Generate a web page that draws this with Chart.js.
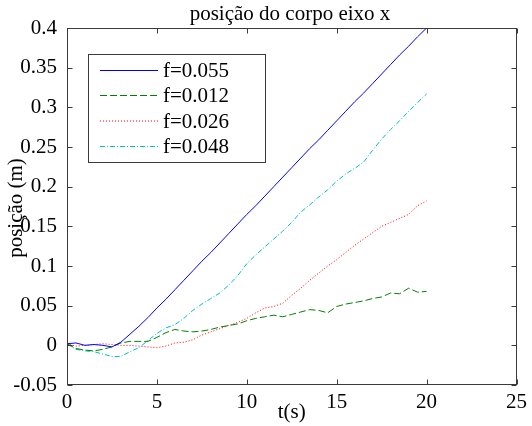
<!DOCTYPE html>
<html>
<head>
<meta charset="utf-8">
<script src="https://cdn.jsdelivr.net/npm/chart.js@4/dist/chart.umd.min.js"></script>
<style>
  html, body { margin: 0; padding: 0; background: #ffffff; }
  #wrap { width: 532px; height: 426px; }
</style>
</head>
<body>
<div id="wrap"><canvas id="c" width="532" height="426"></canvas></div>
<script>
// Time samples (s)
const timeS = [0, 0.5, 1, 1.5, 2, 2.5, 3, 3.5, 4, 4.5, 5, 5.5, 6, 6.5, 7, 7.5, 8, 8.5, 9, 9.5,
               10, 10.5, 11, 11.5, 12, 12.5, 13, 13.5, 14, 14.5, 15, 15.5, 16, 16.5, 17, 17.5,
               18, 18.5, 19, 19.5, 20];

// Body position along x (m) for each friction coefficient
const posF055 = [0.002, 0.003, 0.000, 0.001, 0.000, -0.002, 0.004, 0.014, 0.024, 0.035, 0.047,
                 0.058, 0.070, 0.082, 0.094, 0.106, 0.117, 0.129, 0.141, 0.153, 0.165, 0.176,
                 0.188, 0.200, 0.212, 0.224, 0.236, 0.248, 0.259, 0.271, 0.283, 0.295, 0.307,
                 0.318, 0.330, 0.342, 0.354, 0.366, 0.377, 0.389, 0.400];
const posF012 = [0.002, -0.004, -0.006, -0.007, -0.005, -0.002, 0.003, 0.005, 0.005, 0.005, 0.010,
                 0.016, 0.020, 0.018, 0.017, 0.018, 0.020, 0.023, 0.025, 0.027, 0.031, 0.034,
                 0.036, 0.038, 0.036, 0.039, 0.042, 0.045, 0.044, 0.041, 0.049, 0.052, 0.054,
                 0.056, 0.059, 0.061, 0.066, 0.065, 0.072, 0.067, 0.068];
const posF026 = [0.002, -0.001, 0.000, 0.001, 0.002, 0.001, 0.000, 0.000, -0.001, -0.002, -0.003,
                 -0.001, 0.003, 0.004, 0.007, 0.013, 0.017, 0.021, 0.025, 0.029, 0.034, 0.041,
                 0.047, 0.049, 0.053, 0.063, 0.072, 0.082, 0.091, 0.100, 0.108, 0.117, 0.126,
                 0.134, 0.142, 0.150, 0.155, 0.160, 0.165, 0.176, 0.182];
const posF048 = [0.002, -0.005, -0.007, -0.008, -0.011, -0.014, -0.014, -0.008, -0.003, 0.006, 0.015,
                 0.022, 0.026, 0.034, 0.044, 0.052, 0.059, 0.066, 0.076, 0.088, 0.103, 0.114,
                 0.124, 0.134, 0.144, 0.155, 0.168, 0.177, 0.187, 0.196, 0.207, 0.216, 0.223,
                 0.231, 0.246, 0.260, 0.272, 0.283, 0.295, 0.306, 0.317];

const seriesLabels = ['f=0.055', 'f=0.012', 'f=0.026', 'f=0.048'];

// Axis ticks
const xTickValues = [0, 5, 10, 15, 20, 25];
const xTickLabels = ['0', '5', '10', '15', '20', '25'];
const yTickValues = [-0.05, 0, 0.05, 0.1, 0.15, 0.2, 0.25, 0.3, 0.35, 0.4];
const yTickLabels = ['-0.05', '0', '0.05', '0.1', '0.15', '0.2', '0.25', '0.3', '0.35', '0.4'];

const FONT = 'Liberation Serif, Times New Roman, serif';
const FRAME = '#3a3a3a';

function toPoints(values) {
  return timeS.map((t, i) => ({ x: t, y: values[i] }));
}

const styles = [
  { color: '#0000ff', dash: [] },
  { color: '#008000', dash: [7, 3] },
  { color: '#ff0000', dash: [1, 2] },
  { color: '#00bfbf', dash: [5, 2, 1, 2] }
];
const seriesValues = [posF055, posF012, posF026, posF048];

// Frame with inward ticks on all four sides, titles and the boxed legend
const matlabLook = {
  id: 'matlabLook',
  afterDraw(chart) {
    const ctx = chart.ctx;
    const a = chart.chartArea;
    const xs = chart.scales.x, ys = chart.scales.y;
    ctx.save();
    ctx.strokeStyle = FRAME;
    ctx.lineWidth = 1;
    ctx.setLineDash([]);
    const L = Math.round(a.left) + 0.5, R = Math.round(a.right) - 0.5;
    const T = Math.round(a.top) + 0.5, B = Math.round(a.bottom) - 0.5;
    ctx.strokeRect(L, T, R - L, B - T);
    const tl = 5;
    ctx.beginPath();
    xTickValues.forEach(v => {
      const px = Math.round(xs.getPixelForValue(v)) + 0.5;
      ctx.moveTo(px, B); ctx.lineTo(px, B - tl);
      ctx.moveTo(px, T); ctx.lineTo(px, T + tl);
    });
    yTickValues.forEach(v => {
      const py = Math.round(ys.getPixelForValue(v)) + 0.5;
      ctx.moveTo(L, py); ctx.lineTo(L + tl, py);
      ctx.moveTo(R, py); ctx.lineTo(R - tl, py);
    });
    ctx.stroke();

    // Titles
    ctx.fillStyle = '#000';
    ctx.font = '21px ' + FONT;
    ctx.textAlign = 'center';
    ctx.textBaseline = 'alphabetic';
    ctx.fillText('posição do corpo eixo x', 290, 20);
    ctx.fillText('t(s)', (a.left + a.right) / 2, 418);
    ctx.save();
    ctx.translate(22, 208);
    ctx.rotate(-Math.PI / 2);
    ctx.fillText('posição (m)', 0, 0);
    ctx.restore();

    // Legend
    const bx = 88.5, by = 54.5, bw = 177, bh = 108;
    ctx.fillStyle = '#fff';
    ctx.fillRect(bx, by, bw, bh);
    ctx.strokeStyle = FRAME;
    ctx.strokeRect(bx, by, bw, bh);
    const rows = [70.5, 95.5, 121, 146.5];
    chart.data.datasets.forEach((ds, i) => {
      ctx.beginPath();
      ctx.strokeStyle = ds.borderColor;
      ctx.setLineDash(ds.borderDash || []);
      ctx.moveTo(100, rows[i]);
      ctx.lineTo(158, rows[i]);
      ctx.stroke();
      ctx.setLineDash([]);
      ctx.fillStyle = '#000';
      ctx.textAlign = 'left';
      ctx.textBaseline = 'middle';
      ctx.fillText(ds.label, 163, rows[i] + 1);
    });
    ctx.restore();
  }
};

new Chart(document.getElementById('c'), {
  type: 'line',
  data: {
    datasets: seriesValues.map((vals, i) => ({
      label: seriesLabels[i],
      data: toPoints(vals),
      borderColor: styles[i].color,
      borderDash: styles[i].dash,
      borderWidth: 1,
      pointRadius: 0,
      tension: 0,
      fill: false
    }))
  },
  options: {
    responsive: false,
    devicePixelRatio: 1,
    animation: false,
    layout: { padding: { top: 28, right: 11, left: 0, bottom: 0 } },
    plugins: {
      legend: { display: false },
      title: { display: false },
      tooltip: { enabled: false }
    },
    scales: {
      x: {
        type: 'linear',
        min: 0, max: 25,
        grid: { display: false, drawTicks: false },
        border: { display: false },
        afterBuildTicks: s => { s.ticks = xTickValues.map(v => ({ value: v })); },
        afterFit: s => { s.height = 41; },
        ticks: {
          autoSkip: false, maxRotation: 0, padding: 5,
          color: '#000', font: { family: FONT, size: 21 },
          callback: (v, i) => xTickLabels[i]
        }
      },
      y: {
        type: 'linear',
        min: -0.05, max: 0.4,
        grid: { display: false, drawTicks: false },
        border: { display: false },
        afterBuildTicks: s => { s.ticks = yTickValues.map(v => ({ value: v })); },
        afterFit: s => { s.width = 67; },
        ticks: {
          autoSkip: false, padding: 10,
          color: '#000', font: { family: FONT, size: 21 },
          callback: (v, i) => yTickLabels[i]
        }
      }
    }
  },
  plugins: [matlabLook]
});
</script>
</body>
</html>
